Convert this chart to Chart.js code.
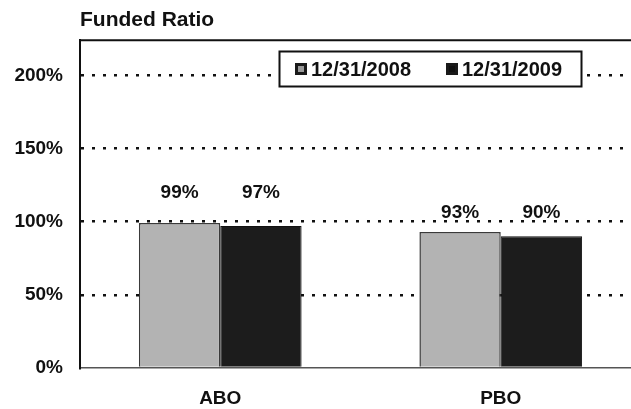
<!DOCTYPE html>
<html>
<head>
<meta charset="utf-8">
<script src="https://cdn.jsdelivr.net/npm/chart.js@4.4.1/dist/chart.umd.min.js"></script>
<style>
  html, body { margin: 0; padding: 0; background: #fff; overflow: hidden; }
  #wrap { width: 645px; height: 409px; }
</style>
</head>
<body>
<div id="wrap"><canvas id="c" width="645" height="409"></canvas></div>
<script>
// Funded ratio by obligation measure, two valuation dates
const categories = ['ABO', 'PBO'];
const seriesLabels = ['12/31/2008', '12/31/2009'];
const values2008 = [99, 93]; // ABO, PBO
const values2009 = [97, 90];
const yTicks = [0, 50, 100, 150, 200];
const yMax = 224;

const FONT = '"Liberation Sans", Arial, sans-serif';

// Value labels above each group of bars
const valueLabels = {
  id: 'valueLabels',
  afterDatasetsDraw(chart, args, opts) {
    const ctx = chart.ctx;
    ctx.save();
    ctx.font = 'bold 19px ' + FONT;
    ctx.fillStyle = '#111';
    ctx.textAlign = 'center';
    ctx.textBaseline = 'middle';
    categories.forEach((cat, i) => {
      let topY = Infinity;
      chart.data.datasets.forEach((ds, d) => {
        topY = Math.min(topY, chart.getDatasetMeta(d).data[i].y);
      });
      chart.data.datasets.forEach((ds, d) => {
        const bar = chart.getDatasetMeta(d).data[i];
        ctx.fillText(ds.data[i] + '%', bar.x, topY - opts.gap[i]);
      });
    });
    ctx.restore();
  }
};

// Frame line along the top of the plot and the boxed legend inside it
const frameAndLegend = {
  id: 'frameAndLegend',
  afterDraw(chart) {
    const ctx = chart.ctx;
    const a = chart.chartArea;
    ctx.save();
    ctx.strokeStyle = '#111';
    ctx.lineWidth = 2;
    ctx.beginPath();
    ctx.moveTo(a.left - 1, a.top);
    ctx.lineTo(a.right + 10, a.top);
    ctx.stroke();

    // legend box
    const bx = 279.5, by = 51.5, bw = 302, bh = 35;
    ctx.fillStyle = '#fff';
    ctx.fillRect(bx, by, bw, bh);
    ctx.lineWidth = 2;
    ctx.strokeStyle = '#111';
    ctx.strokeRect(bx, by, bw, bh);

    ctx.font = 'bold 20px ' + FONT;
    ctx.textBaseline = 'middle';
    ctx.textAlign = 'left';
    const cy = by + bh / 2;
    const itemX = [295, 446];
    chart.data.datasets.forEach((ds, d) => {
      const x = itemX[d];
      ctx.fillStyle = ds.legendFill;
      ctx.fillRect(x, cy - 6, 12, 12);
      ctx.lineWidth = 3;
      ctx.strokeStyle = '#1a1a1a';
      ctx.strokeRect(x + 1.5, cy - 4.5, 9, 9);
      ctx.fillStyle = '#111';
      ctx.fillText(ds.label, x + 16, cy + 1);
    });
    ctx.restore();
  }
};

new Chart(document.getElementById('c'), {
  type: 'bar',
  data: {
    labels: categories,
    datasets: [
      {
        label: seriesLabels[0],
        data: values2008,
        backgroundColor: '#b3b3b3',
        borderColor: '#3a3a3a',
        borderWidth: 1.5,
        legendFill: '#9a9a9a'
      },
      {
        label: seriesLabels[1],
        data: values2009,
        backgroundColor: '#1c1c1c',
        borderColor: '#111',
        borderWidth: 1,
        legendFill: '#111'
      }
    ]
  },
  options: {
    responsive: false,
    animation: false,
    layout: { padding: { left: 0, right: 4, top: 0, bottom: 0 } },
    datasets: {
      bar: { categoryPercentage: 0.58, barPercentage: 1 }
    },
    plugins: {
      legend: { display: false },
      tooltip: { enabled: false },
      title: {
        display: true,
        text: 'Funded Ratio',
        align: 'start',
        fullSize: false,
        color: '#111',
        font: { family: FONT, size: 21, weight: 'bold' },
        padding: { top: 8, bottom: 7 }
      },
      valueLabels: { gap: [30, 19] }
    },
    scales: {
      x: {
        offset: true,
        grid: { display: false, drawTicks: false },
        border: { color: '#555', width: 1.5 },
        afterFit(scale) { scale.height = 41; },
        ticks: {
          color: '#111',
          font: { family: FONT, size: 19, weight: 'bold' },
          padding: 19
        }
      },
      y: {
        min: 0,
        max: yMax,
        afterBuildTicks(scale) {
          scale.ticks = yTicks.map(v => ({ value: v }));
        },
        afterFit(scale) { scale.width = 80; },
        border: { color: '#111', width: 2, dash: [3, 8] },
        grid: {
          drawTicks: false,
          lineWidth: 2.5,
          color: ctx => (ctx.tick && ctx.tick.value === 0) ? 'rgba(0,0,0,0)' : '#111'
        },
        ticks: {
          padding: 17,
          color: '#111',
          font: { family: FONT, size: 19, weight: 'bold' },
          callback: v => v + '%'
        }
      }
    }
  },
  plugins: [valueLabels, frameAndLegend]
});
</script>
</body>
</html>
